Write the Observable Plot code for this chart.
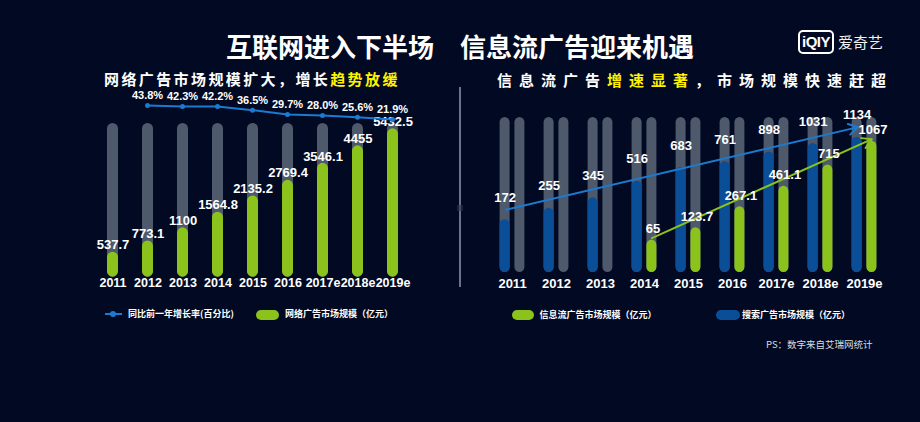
<!DOCTYPE html>
<html>
<head>
<meta charset="utf-8">
<script src="https://cdn.jsdelivr.net/npm/d3@7"></script>
<script src="https://cdn.jsdelivr.net/npm/@observablehq/plot@0.6"></script>
<style>
html, body { margin: 0; padding: 0; background: #020a23; }
#root { position: relative; width: 920px; height: 422px; background: #020a23; overflow: hidden;
  font-family: "Noto Sans CJK SC", "Noto Sans", sans-serif; color: #fff; }
.abs { position: absolute; white-space: nowrap; }
.title { left: 0; width: 920px; top: 31px; line-height: 30px; text-align: center; font-size: 26px; font-weight: bold; }
.sub { font-size: 15px; font-weight: bold; line-height: 20px; }
.hl { color: #fff200; }
.leg { font-size: 9px; font-weight: bold; line-height: 12px; color: #fff; }
.pill { border-radius: 6px; }
.chart { position: absolute; }
</style>
</head>
<body>
<div id="root">
  <div class="abs title">互联网进入下半场　信息流广告迎来机遇</div>
  <div class="abs" style="left:798px;top:30px;width:32px;height:20px;border:2px solid #fff;border-radius:5px;font-family:'Liberation Sans',sans-serif;font-size:15px;font-weight:bold;line-height:20px;text-align:center;letter-spacing:-0.5px;">iQIY</div>
  <div class="abs" style="left:838px;top:32px;font-size:15px;line-height:20px;color:#f2f2f2;">爱奇艺</div>

  <div class="abs sub" style="left:104px;top:69px;letter-spacing:2.4px;">网络广告市场规模扩大，增长<span class="hl">趋势放缓</span></div>
  <div class="abs sub" style="left:497px;top:70px;letter-spacing:7px;">信息流广告<span class="hl">增速显著</span>，市场规模快速赶超</div>

  <div class="abs" style="left:459px;top:87px;width:2px;height:200px;background:#6b7388;"></div>
  <div class="abs" style="left:457px;top:205px;width:6px;height:6px;background:#2a3350;opacity:0.6;"></div>

  <div id="leftBars" class="chart" style="left:0;top:110px;"></div>
  <div id="leftLine" class="chart" style="left:0;top:86px;"></div>
  <div id="rightBars" class="chart" style="left:460px;top:100px;"></div>

  <!-- left legend -->
  <div class="abs" style="left:105px;top:313px;width:17px;height:2px;background:#1a7bd0;"></div>
  <div class="abs" style="left:110px;top:311px;width:6px;height:6px;border-radius:3px;background:#1a7bd0;"></div>
  <div class="abs leg" style="left:128px;top:308px;">同比前一年增长率(百分比)</div>
  <div class="abs pill" style="left:256px;top:310px;width:23px;height:9.5px;background:#8cc21c;"></div>
  <div class="abs leg" style="left:285px;top:308px;">网络广告市场规模（亿元）</div>

  <!-- right legend -->
  <div class="abs pill" style="left:512px;top:309.5px;width:22px;height:10.5px;background:#8cc21c;"></div>
  <div class="abs leg" style="left:539.5px;top:308.5px;">信息流广告市场规模（亿元）</div>
  <div class="abs pill" style="left:716px;top:309.5px;width:24px;height:10.5px;background:#0b4e98;"></div>
  <div class="abs leg" style="left:742px;top:308.5px;">搜索广告市场规模（亿元）</div>

  <div class="abs" style="left:766px;top:338px;font-size:9.5px;line-height:12px;color:#dcdcdc;">PS：数字来自艾瑞网统计</div>
</div>

<script>
// ---------- data ----------
const years = ["2011", "2012", "2013", "2014", "2015", "2016", "2017e", "2018e", "2019e"];
const netAdSize = [537.7, 773.1, 1100, 1564.8, 2135.2, 2769.4, 3546.1, 4455, 5432.5];
const growthYears = ["2012", "2013", "2014", "2015", "2016", "2017e", "2018e", "2019e"];
const growthRates = [43.8, 42.3, 42.2, 36.5, 29.7, 28.0, 25.6, 21.9];
const searchAdSize = [172, 255, 345, 516, 683, 761, 898, 1031, 1134];
const feedYears = ["2014", "2015", "2016", "2017e", "2018e", "2019e"];
const feedAdSize = [65, 123.7, 267.1, 461.1, 715, 1067];

// ---------- style ----------
const FONT = '"Noto Sans CJK SC", "Noto Sans", sans-serif';
const NUMFONT = '"Liberation Sans", Arial, sans-serif';
const TRACK = "#4e596b";
const GREEN = "#8cc21c";
const BLUE_BAR = "#0b4e98";
const BLUE_LINE = "#1a7bd0";
const svgStyle = {background: "transparent", color: "#fff", overflow: "visible", fontFamily: NUMFONT};

// scales
const LEFT_MIN = 168, LEFT_MAX = 5756;
const RIGHT_MAX = 1487;

const netTable = years.map((year, i) => ({year, value: netAdSize[i]}));
const growthTable = growthYears.map((year, i) => ({year, rate: growthRates[i]}));
const searchTable = years.map((year, i) => ({year, value: searchAdSize[i]}));
const feedTable = feedYears.map((year, i) => ({year, value: feedAdSize[i]}));

const leftX = {domain: years, paddingInner: 0.692, paddingOuter: 0.346, axis: null};

// ---------- left bars ----------
const leftBars = Plot.plot({
  width: 460, height: 182,
  marginLeft: 91.125, marginRight: 47.125, marginTop: 13, marginBottom: 15.3,
  style: svgStyle,
  x: leftX,
  y: {type: "sqrt", domain: [LEFT_MIN, LEFT_MAX], clamp: true, axis: null},
  marks: [
    Plot.barY(years, {x: d => d, y1: () => LEFT_MIN, y2: () => LEFT_MAX, fill: TRACK, rx: 5.5}),
    Plot.barY(netTable, {x: "year", y1: () => LEFT_MIN, y2: "value", fill: GREEN, rx: 5.5}),
    Plot.text(netTable, {x: "year", y: "value", text: d => String(d.value), dy: -7,
      fill: "#fff", fontSize: 13, fontWeight: "bold"}),
    Plot.axisX({label: null, tickSize: 0, tickPadding: 1, fontSize: 12.5, fontWeight: "bold", fill: "#fff"})
  ]
});
document.getElementById("leftBars").append(leftBars);

// ---------- left growth line ----------
const leftLine = Plot.plot({
  width: 460, height: 40,
  marginLeft: 91.125, marginRight: 47.125, marginTop: 0, marginBottom: 0,
  style: svgStyle,
  x: leftX,
  y: {domain: [0, 50], range: [47, 15.04], axis: null},
  marks: [
    Plot.line(growthTable, {x: "year", y: "rate", stroke: BLUE_LINE, strokeWidth: 2}),
    Plot.dot(growthTable, {x: "year", y: "rate", r: 2.5, fill: BLUE_LINE}),
    Plot.text(growthTable, {x: "year", y: "rate", text: d => d.rate.toFixed(1) + "%", dy: -10,
      fill: "#fff", fontSize: 11, fontWeight: "bold"})
  ]
});
document.getElementById("leftLine").append(leftLine);

// ---------- right bars ----------
const OFF = 7.4;
const rightBars = Plot.plot({
  width: 460, height: 192,
  marginLeft: 26.05, marginRight: 29.85, marginTop: 17, marginBottom: 20,
  style: svgStyle,
  x: {domain: years, paddingInner: 0.766, paddingOuter: 0.383, axis: null},
  y: {type: "sqrt", domain: [0, RIGHT_MAX], axis: null},
  marks: [
    Plot.barY(years, {x: d => d, y: () => RIGHT_MAX, dx: -OFF, fill: TRACK, rx: 5.25}),
    Plot.barY(years, {x: d => d, y: () => RIGHT_MAX, dx: OFF, fill: TRACK, rx: 5.25}),
    Plot.barY(searchTable, {x: "year", y: "value", dx: -OFF, fill: BLUE_BAR, rx: 5.25}),
    Plot.barY(feedTable, {x: "year", y: "value", dx: OFF, fill: GREEN, rx: 5.25}),
    Plot.arrow([{a: searchTable[0], b: searchTable[searchTable.length - 1]}], {
      x1: d => d.a.year, y1: d => d.a.value, x2: d => d.b.year, y2: d => d.b.value,
      dx: -OFF + 1, dy: -10, stroke: BLUE_LINE, strokeWidth: 2, headLength: 8}),
    Plot.arrow([{a: feedTable[0], b: feedTable[feedTable.length - 1]}], {
      x1: d => d.a.year, y1: d => d.a.value, x2: d => d.b.year, y2: d => d.b.value,
      dx: OFF, dy: -2, stroke: GREEN, strokeWidth: 2, headLength: 8}),
    Plot.text(searchTable, {x: "year", y: "value", text: d => String(d.value), dx: -OFF, dy: -22,
      fill: "#fff", fontSize: 13, fontWeight: "bold"}),
    Plot.text(feedTable, {x: "year", y: "value", text: d => String(d.value), dx: OFF + 1, dy: -11,
      fill: "#fff", fontSize: 13, fontWeight: "bold"}),
    Plot.axisX({label: null, tickSize: 0, tickPadding: 6.7, fontSize: 13, fontWeight: "bold", fill: "#fff"})
  ]
});
document.getElementById("rightBars").append(rightBars);
</script>
</body>
</html>
